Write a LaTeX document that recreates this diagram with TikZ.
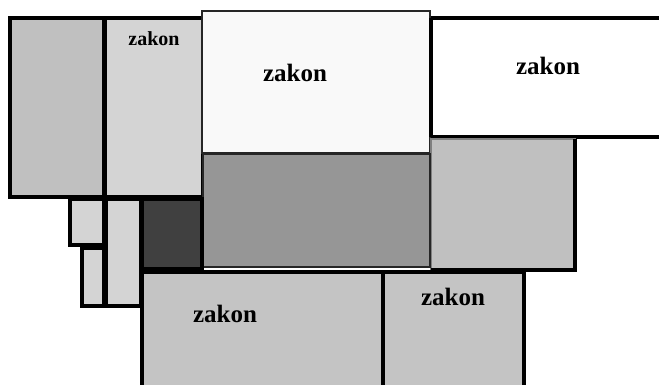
\documentclass[tikz,border=0pt]{standalone}
\usepackage{fontspec}
\setmainfont{Liberation Serif}
\definecolor{gA}{HTML}{C0C0C0}
\definecolor{gB}{HTML}{D4D4D4}
\definecolor{gC}{HTML}{F9F9F9}
\definecolor{gF}{HTML}{969696}
\definecolor{gG}{HTML}{404040}
\definecolor{gI}{HTML}{C4C4C4}
\tikzset{
  blk/.style={draw=black, line width=3.2pt},
  thinblk/.style={draw=black!85, line width=2.4pt},
  lbl/.style={font=\bfseries\fontsize{25}{28}\selectfont, anchor=base, inner sep=0pt},
  lblsmall/.style={font=\bfseries\fontsize{20}{23}\selectfont, anchor=base, inner sep=0pt},
}
\begin{document}
\begin{tikzpicture}[x=1pt,y=-1pt]
\useasboundingbox (0,0) rectangle (659,385);
\clip (0,0) rectangle (659,385);
% top row
\draw[blk, fill=gA] (10,18) rectangle (104,197);
\draw[blk, fill=gB] (105,18) rectangle (203,197);
\draw[blk, fill=white] (431,18) rectangle (680,137);
\draw[thinblk, fill=gC] (202,11) rectangle (430,153);
\draw[blk] (431,18) -- (431,137);
% middle
\draw[draw=gray, line width=1.6pt, fill=gA] (431,139) rectangle (575,269);
\draw[blk] (575,139) -- (575,270) -- (431,270);
\draw[thinblk, fill=gF] (203,154) rectangle (430,267);
\draw[blk, fill=gG] (142,199) rectangle (202,269);
% small left boxes
\draw[blk, fill=gB] (70,199) rectangle (104,245);
\draw[blk, fill=gB] (82,248) rectangle (104,306);
\draw[blk, fill=gB] (106,199) rectangle (141,306);
% bottom
\draw[blk, fill=gI] (142,272) rectangle (383,400);
\draw[blk, fill=gI] (383,272) rectangle (524,400);
% labels
\node[lblsmall] (tB) at (154,46) {zakon};
\node[lbl] (tC) at (295,82) {zakon};
\node[lbl] (tD) at (548,75) {zakon};
\node[lbl] (tI) at (225,322) {zakon};
\node[lbl] (tJ) at (453,305) {zakon};
\end{tikzpicture}
\end{document}
